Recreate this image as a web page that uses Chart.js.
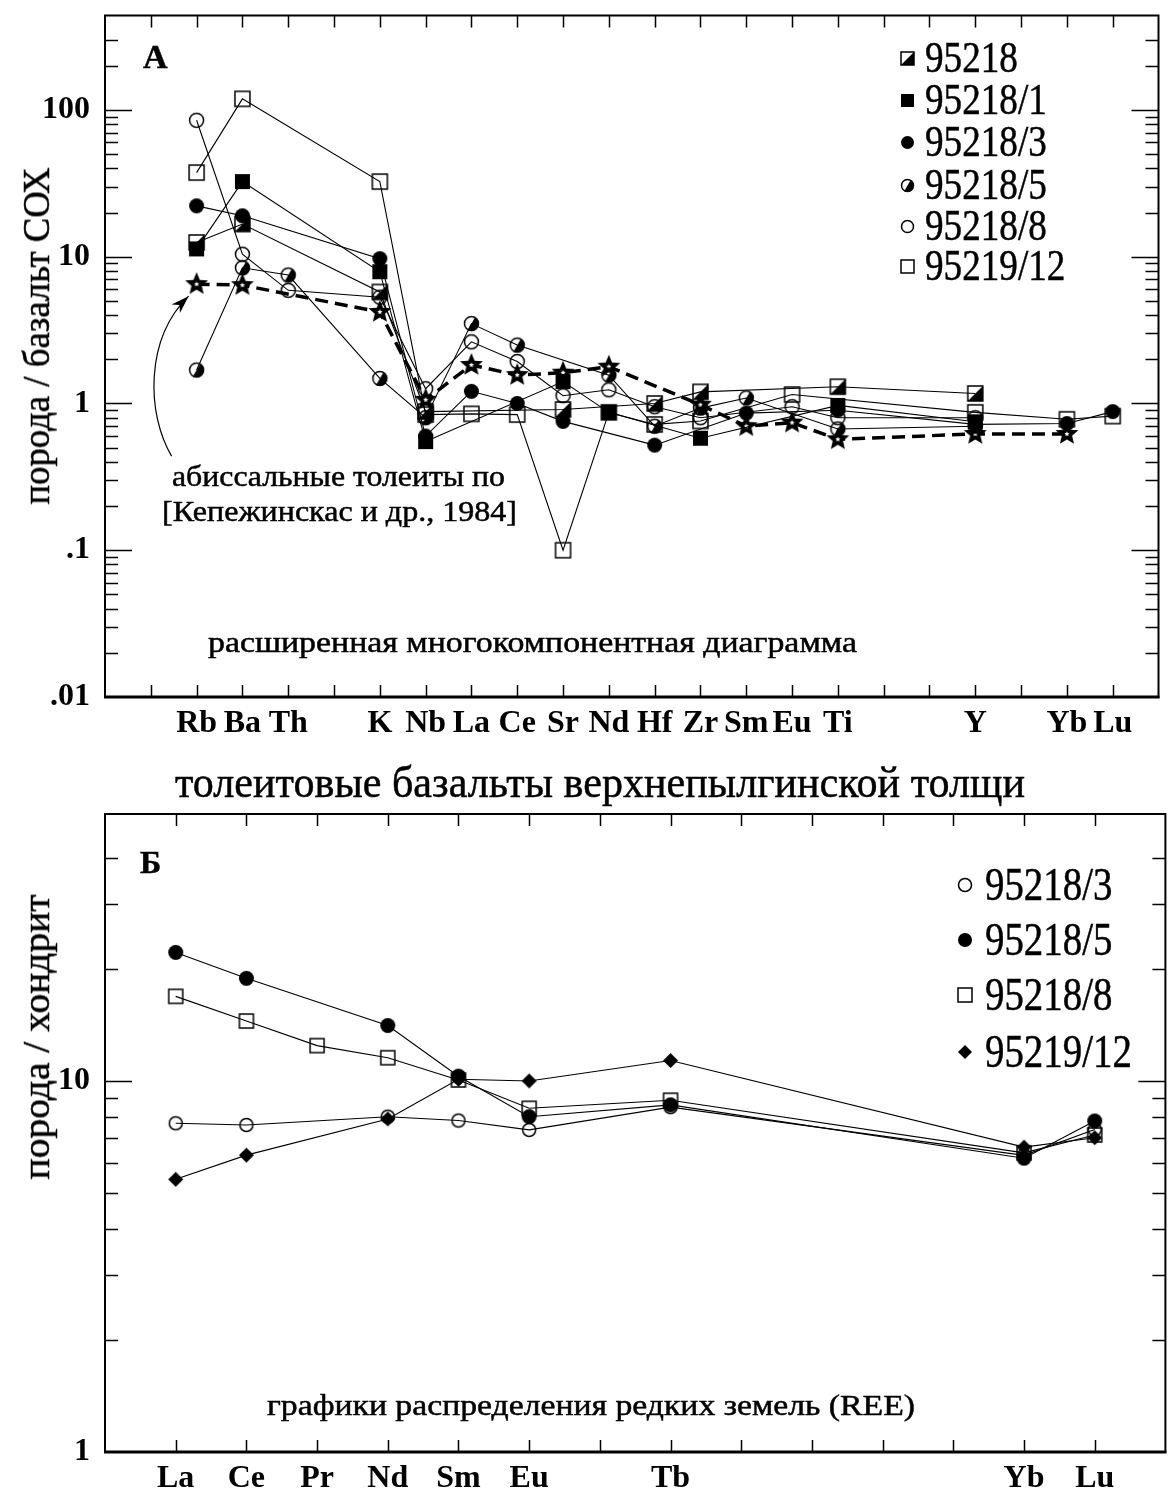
<!DOCTYPE html>
<html>
<head>
<meta charset="utf-8">
<script src="https://cdn.jsdelivr.net/npm/chart.js@4.4.1/dist/chart.umd.min.js"></script>
<style>
  body { margin: 0; background: #fff; width: 1174px; height: 1498px; position: relative; overflow: hidden;
         font-family: "Liberation Serif", "Times New Roman", serif; color: #000; }
  canvas { position: absolute; left: 0; }
  .t { position: absolute; white-space: nowrap; line-height: 1; transform-origin: 0 50%; -webkit-text-stroke: 0.5px #000; }
  .mk { position: absolute; }
</style>
</head>
<body>
<canvas id="chartA" width="1174" height="748" style="top:0"></canvas>
<canvas id="chartB" width="1174" height="698" style="top:800px"></canvas>
<script>
// ---- Panel A: extended multi-element diagram (rock / MORB) ----
const slotsA = ['', 'Rb', 'Ba', 'Th', '', 'K', 'Nb', 'La', 'Ce', 'Sr', 'Nd', 'Hf', 'Zr', 'Sm', 'Eu', 'Ti', '', '', 'Y', '', 'Yb', 'Lu'];
const elementsA = ['Rb', 'Ba', 'Th', 'K', 'Nb', 'La', 'Ce', 'Sr', 'Nd', 'Hf', 'Zr', 'Sm', 'Eu', 'Ti', 'Y', 'Yb', 'Lu'];
const decadesA = [0.01, 0.1, 1, 10, 100];
const decadeLabelsA = ['.01', '.1', '1', '10', '100'];

const v95218    = [12.5, 16.7, null, 5.75, 0.88, null, null, 0.91, null, 1.0, 1.2, null, null, 1.3, 1.17, null, null];
const v95218_1  = [11.3, 32.5, null, 7.9, 0.55, null, null, 1.41, 0.87, null, 0.58, null, null, 0.97, 0.75, null, null];
const v95218_3  = [22.2, 19.0, null, 9.7, 0.6, 1.21, 1.0, 0.755, null, 0.52, null, 0.86, null, 0.9, 0.72, 0.73, 0.88];
const v95218_5  = [1.69, 8.4, 7.5, 1.48, 0.8, 3.5, 2.5, null, 1.56, 0.7, 0.93, 1.09, null, 0.67, 0.7, null, null];
const v95218_8  = [85, 10.4, 5.9, 5.3, 1.26, 2.63, 1.93, 1.13, 1.24, 0.95, 0.8, null, 0.95, 0.8, 0.8, null, null];
const v95219_12 = [37.4, 119, null, 32.5, 0.84, 0.85, 0.84, 0.1, 0.87, 0.72, 0.76, null, 1.15, null, 0.87, 0.78, 0.82];
const vAbyssal  = [6.5, 6.4, null, 4.2, 1.06, 1.83, 1.56, 1.62, 1.78, null, 0.98, 0.7, 0.74, 0.57, 0.62, 0.62, null];

// ---- Panel B: REE (rock / chondrite) ----
const slotsB = ['La', 'Ce', 'Pr', 'Nd', 'Sm', 'Eu', '', 'Tb', '', '', '', '', 'Yb', 'Lu'];
const elementsB = ['La', 'Ce', 'Pr', 'Nd', 'Sm', 'Eu', 'Tb', 'Yb', 'Lu'];
const decadesB = [1, 10];
const decadeLabelsB = ['1', '10'];

const r95218_3  = [7.69, 7.61, null, 8.01, 7.82, 7.38, 8.5, 6.3, 7.4];
const r95218_5  = [22.2, 18.9, null, 14.1, 10.3, 8.01, 8.62, 6.19, 7.8];
const r95218_8  = [16.9, 14.5, 12.45, 11.55, 10.06, 8.44, 8.87, 6.4, 7.15];
const r95219_12 = [5.43, 6.31, null, 7.9, 10.1, 10.0, 11.35, 6.63, 7.03];

const FONT = '"Liberation Serif", "Times New Roman", serif';

// marker images for pointStyle
function marker(kind, s) {
  const pad = 3;
  const c = document.createElement('canvas');
  c.width = c.height = Math.ceil(s + pad * 2);
  const g = c.getContext('2d');
  const m = c.width / 2, r = s / 2;
  g.strokeStyle = '#000';
  g.fillStyle = '#000';
  g.lineWidth = 1.5;
  if (kind === 'square') {
    g.fillRect(m - r, m - r, s, s);
  } else if (kind === 'openSquare') {
    g.strokeRect(m - r, m - r, s, s);
  } else if (kind === 'halfSquare') {
    g.beginPath();
    g.moveTo(m - r, m + r); g.lineTo(m + r, m - r); g.lineTo(m + r, m + r);
    g.closePath(); g.fill();
    g.strokeRect(m - r, m - r, s, s);
  } else if (kind === 'circle') {
    g.beginPath(); g.arc(m, m, r, 0, Math.PI * 2); g.fill();
  } else if (kind === 'openCircle') {
    g.beginPath(); g.arc(m, m, r - 0.5, 0, Math.PI * 2); g.stroke();
  } else if (kind === 'halfCircle') {
    g.beginPath(); g.arc(m, m, r, -Math.PI / 3, Math.PI * 2 / 3); g.closePath(); g.fill();
    g.beginPath(); g.arc(m, m, r - 0.5, 0, Math.PI * 2); g.stroke();
  } else if (kind === 'diamond') {
    g.beginPath();
    g.moveTo(m, m - r); g.lineTo(m + r, m); g.lineTo(m, m + r); g.lineTo(m - r, m);
    g.closePath(); g.fill();
  } else if (kind === 'star') {
    const starPath = (ro, ri) => {
      g.beginPath();
      for (let i = 0; i < 10; i++) {
        const a = -Math.PI / 2 + i * Math.PI / 5;
        const rr = i % 2 === 0 ? ro : ri;
        g.lineTo(m + rr * Math.cos(a), m + rr * Math.sin(a));
      }
      g.closePath();
    };
    starPath(r, r * 0.45); g.fill();
    g.fillStyle = '#fff';
    starPath(r * 0.22, r * 0.11); g.fill();
  }
  return c;
}

function toPoints(slots, elements, values) {
  return elements.map((el, i) => ({ x: slots.indexOf(el), y: values[i] })).filter(p => p.y !== null);
}

function logTicks(decades, min, max) {
  const out = [];
  decades.concat([decades[decades.length - 1] * 10]).forEach(d => {
    for (let m = 1; m <= 9; m++) {
      const v = +(d * m).toPrecision(3);
      if (v >= min && v <= max) out.push(v);
    }
  });
  return out;
}

// frame and inward tick marks
const frameTicks = {
  id: 'frameTicks',
  afterDraw(chart) {
    const { ctx, chartArea: a, scales: { x, y } } = chart;
    ctx.save();
    ctx.strokeStyle = '#000';
    ctx.lineWidth = 1.5;
    ctx.beginPath();
    x.ticks.forEach(t => {
      const px = Math.round(x.getPixelForValue(t.value)) + 0.5;
      ctx.moveTo(px, a.bottom); ctx.lineTo(px, a.bottom - 12);
      ctx.moveTo(px, a.top); ctx.lineTo(px, a.top + 12);
    });
    y.ticks.forEach(t => {
      const py = Math.round(y.getPixelForValue(t.value)) + 0.5;
      if (py < a.top + 9 || py > a.bottom - 2) return;
      const major = Math.abs(Math.log10(t.value) - Math.round(Math.log10(t.value))) < 1e-6;
      const len = major ? 27 : 13;
      ctx.moveTo(a.left, py); ctx.lineTo(a.left + len, py);
      ctx.moveTo(a.right, py); ctx.lineTo(a.right - len, py);
    });
    ctx.stroke();
    ctx.lineWidth = 2;
    ctx.strokeRect(a.left, a.top, a.right - a.left, a.bottom - a.top);
    ctx.lineWidth = 3;
    ctx.beginPath(); ctx.moveTo(a.left - 1, a.bottom); ctx.lineTo(a.right + 1, a.bottom); ctx.stroke();
    ctx.restore();
  }
};

// curved arrow from the reference caption to the abyssal tholeiite Rb point
const arrowPlugin = {
  id: 'arrow',
  afterDatasetsDraw(chart) {
    const { ctx, scales: { x, y } } = chart;
    const px = x.getPixelForValue(slotsA.indexOf('Rb'));
    const py = y.getPixelForValue(vAbyssal[0]);
    const tip = [px - 8, py + 12];
    const start = [px - 25, py + 172];
    const c1 = [px - 50, py + 130];
    const c2 = [px - 52, py + 55];
    ctx.save();
    ctx.strokeStyle = '#000';
    ctx.lineWidth = 1.2;
    ctx.beginPath();
    ctx.moveTo(start[0], start[1]);
    ctx.bezierCurveTo(c1[0], c1[1], c2[0], c2[1], tip[0], tip[1]);
    ctx.stroke();
    const ang = Math.atan2(tip[1] - c2[1], tip[0] - c2[0]);
    const L = 18, W = 6;
    ctx.beginPath();
    ctx.moveTo(tip[0], tip[1]);
    ctx.lineTo(tip[0] - L * Math.cos(ang) + W * Math.sin(ang), tip[1] - L * Math.sin(ang) - W * Math.cos(ang));
    ctx.lineTo(tip[0] - L * 0.7 * Math.cos(ang), tip[1] - L * 0.7 * Math.sin(ang));
    ctx.lineTo(tip[0] - L * Math.cos(ang) - W * Math.sin(ang), tip[1] - L * Math.sin(ang) + W * Math.cos(ang));
    ctx.closePath();
    ctx.fillStyle = '#000';
    ctx.fill();
    ctx.restore();
  }
};

function lineSet(label, data, style, size, dashed) {
  return {
    label, data,
    borderColor: '#000',
    borderWidth: dashed ? 3.5 : 1.1,
    borderDash: dashed ? [13, 7] : [],
    pointStyle: marker(style, size),
    pointRadius: size / 2,
    pointHoverRadius: size / 2,
    spanGaps: true,
    tension: 0,
    fill: false
  };
}

function makeChart(id, slots, decades, decadeLabels, yMin, yMax, padTop, yWidth, xHeight, datasets, extra) {
  const minorTicks = logTicks(decades, yMin, yMax);
  return new Chart(document.getElementById(id), {
    type: 'line',
    data: { datasets },
    options: {
      responsive: false,
      animation: false,
      events: [],
      layout: { padding: { top: padTop, right: 2, left: 0, bottom: 0 } },
      plugins: { legend: { display: false }, tooltip: { enabled: false } },
      scales: {
        x: {
          type: 'linear', min: -1, max: slots.length,
          grid: { display: false, drawTicks: false },
          border: { display: false },
          afterBuildTicks: s => { s.ticks = slots.map((_, i) => ({ value: i })); },
          afterFit: s => { s.height = xHeight; s.paddingLeft = 0; s.paddingRight = 0; },
          ticks: {
            autoSkip: false, maxRotation: 0, padding: 8, color: '#000',
            font: { family: FONT, size: 32, weight: 'bold' },
            callback: v => slots[v] || ''
          }
        },
        y: {
          type: 'logarithmic', min: yMin, max: yMax,
          grid: { display: false, drawTicks: false },
          border: { display: false },
          afterBuildTicks: s => { s.ticks = minorTicks.map(v => ({ value: v })); },
          afterFit: s => { s.width = yWidth; s.paddingTop = 0; s.paddingBottom = 0; },
          ticks: {
            autoSkip: false, padding: 15, color: '#000',
            font: { family: FONT, size: 32, weight: 'bold' },
            callback: v => {
              const k = decades.findIndex(d => Math.abs(d - v) / d < 1e-6);
              return k >= 0 ? decadeLabels[k] : '';
            }
          }
        }
      }
    },
    plugins: [frameTicks].concat(extra)
  });
}

makeChart('chartA', slotsA, decadesA, decadeLabelsA, 0.01, 440, 12, 105, 51, [
  lineSet('95218', toPoints(slotsA, elementsA, v95218), 'halfSquare', 15),
  lineSet('95218/1', toPoints(slotsA, elementsA, v95218_1), 'square', 15),
  lineSet('95218/3', toPoints(slotsA, elementsA, v95218_3), 'circle', 15),
  lineSet('95218/5', toPoints(slotsA, elementsA, v95218_5), 'halfCircle', 15),
  lineSet('95218/8', toPoints(slotsA, elementsA, v95218_8), 'openCircle', 15),
  lineSet('95219/12', toPoints(slotsA, elementsA, v95219_12), 'openSquare', 15),
  lineSet('abyssal', toPoints(slotsA, elementsA, vAbyssal), 'star', 24, true)
], [arrowPlugin]);

makeChart('chartB', slotsB, decadesB, decadeLabelsB, 1, 52.4, 14, 105, 46, [
  lineSet('95218/3', toPoints(slotsB, elementsB, r95218_3), 'openCircle', 14),
  lineSet('95218/5', toPoints(slotsB, elementsB, r95218_5), 'circle', 15),
  lineSet('95218/8', toPoints(slotsB, elementsB, r95218_8), 'openSquare', 14),
  lineSet('95219/12', toPoints(slotsB, elementsB, r95219_12), 'diamond', 15)
], []);

// ---- text overlays ----
function placeText(o) {
  const el = document.createElement('div');
  el.className = 't';
  el.textContent = o.text;
  el.style.fontSize = o.size + 'px';
  if (o.bold) el.style.fontWeight = 'bold';
  document.body.appendChild(el);
  const natural = el.getBoundingClientRect().width;
  const k = o.width ? o.width / natural : (o.scale || 1);
  el.style.left = o.x + 'px';
  el.style.top = o.y + 'px';
  if (o.rotate) {
    el.style.transformOrigin = '50% 50%';
    el.style.transform = `translate(-50%,-50%) rotate(-90deg) scaleX(${k})`;
  } else {
    el.style.transform = `translateY(-50%) scaleX(${k})`;
  }
}

[
  { text: 'A', x: 143, y: 57, size: 34, bold: true },
  { text: 'абиссальные толеиты по', x: 172, y: 476, size: 30, width: 333 },
  { text: '[Кепежинскас и др., 1984]', x: 162, y: 511, size: 30, width: 355 },
  { text: 'расширенная многокомпонентная диаграмма', x: 208, y: 642, size: 30, width: 649 },
  { text: 'толеитовые базальты верхнепылгинской толщи', x: 175, y: 783, size: 44, width: 850 },
  { text: 'Б', x: 140, y: 862, size: 32, bold: true },
  { text: 'графики распределения редких земель (REE)', x: 267, y: 1405, size: 30, width: 648 },
  { text: 'порода / базальт СОХ', x: 36, y: 336, size: 38, width: 337, rotate: true },
  { text: 'порода / хондрит', x: 36, y: 1037, size: 38, width: 285, rotate: true }
].forEach(placeText);

// legends
function legendRow(kind, label, mx, tx, y, ms, size) {
  const c = marker(kind, ms);
  c.className = 'mk';
  c.style.left = (mx - c.width / 2) + 'px';
  c.style.top = (y - c.height / 2) + 'px';
  document.body.appendChild(c);
  placeText({ text: label, x: tx, y, size, scale: 0.845 });
}

const legendA = [['halfSquare', '95218'], ['square', '95218/1'], ['circle', '95218/3'],
                 ['halfCircle', '95218/5'], ['openCircle', '95218/8'], ['openSquare', '95219/12']];
const legendAy = [58, 100, 142, 185, 226, 266];
legendA.forEach((e, i) => legendRow(e[0], e[1], 907, 925, legendAy[i], 13, 44));

const legendB = [['openCircle', '95218/3'], ['circle', '95218/5'], ['openSquare', '95218/8'], ['diamond', '95219/12']];
const legendBy = [885, 940, 995, 1052];
legendB.forEach((e, i) => legendRow(e[0], e[1], 965, 985, legendBy[i], 14, 46));
</script>
</body>
</html>
